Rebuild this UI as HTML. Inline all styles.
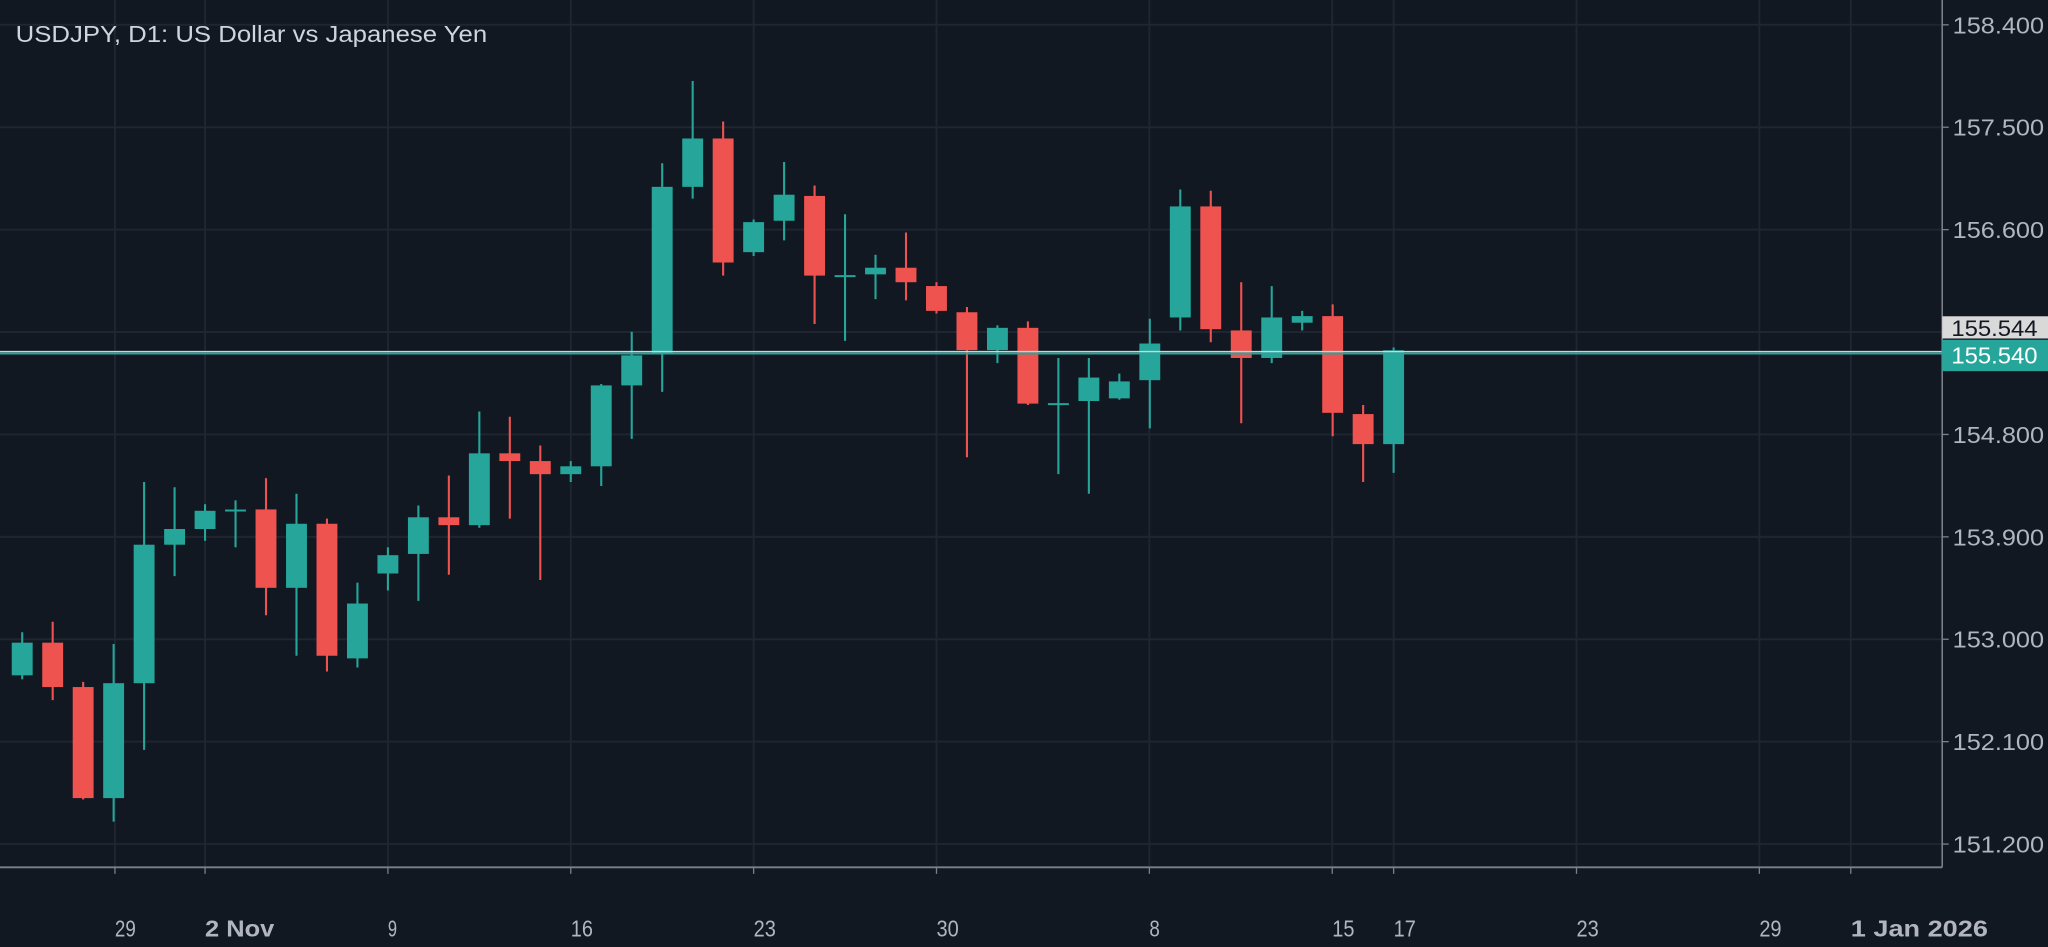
<!DOCTYPE html>
<html><head><meta charset="utf-8"><style>
html,body{margin:0;padding:0;background:#111822;overflow:hidden}
svg{display:block}
text{font-family:"Liberation Sans",sans-serif}
</style></head><body>
<svg id="chart" width="2048" height="947" viewBox="0 0 1568 725" preserveAspectRatio="none" xmlns="http://www.w3.org/2000/svg">
<rect x="0" y="0" width="1568" height="725" fill="#111822"/>
<g id="grid"></g>
<g id="candles"></g>
<g id="axes"></g>
<text x="12" y="32" font-size="18" textLength="361" lengthAdjust="spacingAndGlyphs" fill="#d1d4dc">USDJPY, D1: US Dollar vs Japanese Yen</text>
</svg>
<script>
const opens  = [152.683,152.97,152.58,151.604,152.614,153.831,153.969,154.13,154.141,153.452,154.015,152.832,153.578,153.75,154.072,154.003,154.634,154.566,154.451,154.52,155.231,155.507,156.976,157.401,156.402,156.678,156.896,156.196,156.207,156.265,156.104,155.874,155.541,155.737,155.07,155.094,155.117,155.277,155.828,156.804,155.714,155.472,155.782,155.84,154.979,154.715];
const highs  = [153.062,153.154,152.625,152.958,154.382,154.336,154.187,154.221,154.416,154.279,154.06,153.498,153.808,154.175,154.439,155.002,154.956,154.703,154.566,155.243,155.702,157.183,157.906,157.55,156.689,157.194,156.988,156.735,156.379,156.575,156.138,155.92,155.759,155.794,155.472,155.472,155.335,155.817,156.953,156.942,156.138,156.104,155.886,155.943,155.059,155.564];
const lows   = [152.648,152.465,151.592,151.397,152.028,153.555,153.865,153.808,153.211,152.855,152.717,152.752,153.429,153.337,153.567,153.98,154.06,153.521,154.382,154.347,154.761,155.174,156.873,156.196,156.368,156.506,155.771,155.622,155.989,155.978,155.863,154.6,155.427,155.059,154.451,154.279,155.105,154.853,155.714,155.61,154.898,155.427,155.714,154.784,154.382,154.462];
const closes = [152.97,152.58,151.604,152.614,153.831,153.969,154.129,154.14,153.452,154.015,152.855,153.314,153.739,154.072,154.003,154.634,154.566,154.451,154.52,155.231,155.495,156.976,157.401,156.311,156.666,156.907,156.196,156.2,156.265,156.138,155.886,155.541,155.737,155.071,155.075,155.3,155.266,155.599,156.804,155.725,155.472,155.828,155.84,154.99,154.715,155.54];
const priceTicks = [158.4,157.5,156.6,155.7,154.8,153.9,153.0,152.1,151.2];
const dateLabels = ["29","2 Nov","9","16","23","30","8","15","17","23","29","1 Jan 2026"];
const dateTickDays = [3.5,6.95,13.95,20.95,27.95,34.95,43.1,50.1,52.45,59.45,66.45,69.95];
const lastPrice = 155.540;
const bidPrice = 155.544;

const NS="http://www.w3.org/2000/svg";
const PW=1487, PH=664;
function y(p){return 19+(158.4-p)*78.4/0.9;}
function xc(i){return 17+i*23.333;}
function xd(d){return 18+d*20;}
function mk(tag,attrs,parent){const e=document.createElementNS(NS,tag);for(const k in attrs)e.setAttribute(k,attrs[k]);parent.appendChild(e);return e;}
const grid=document.getElementById('grid'), cg=document.getElementById('candles'), ax=document.getElementById('axes');
priceTicks.forEach((p,i)=>{
  const l=mk('line',{x1:0,x2:PW,y1:y(p),y2:y(p),stroke:'#1f2631','stroke-width':1.5},grid);
  
  
});
dateTickDays.forEach((d,i)=>{
  const l=mk('line',{x1:xd(d),x2:xd(d),y1:0,y2:PH,stroke:'#1f2631','stroke-width':1.5},grid);
  
  
});
opens.forEach((o,i)=>{
  const c=closes[i], up=c>=o, col=up?'#26a69a':'#ef5350';
  const g=mk('g',{},cg);
  
  
  mk('line',{x1:xc(i),x2:xc(i),y1:y(highs[i]),y2:y(lows[i]),stroke:col,'stroke-width':1.6},g);
  const top=y(Math.max(o,c)), h=Math.max(1.5,Math.abs(y(o)-y(c)));
  mk('rect',{x:xc(i)-8,y:top,width:16,height:h,fill:col},g);
});
const ly=y(lastPrice)+2;
const pl=mk('line',{x1:0,x2:PW,y1:ly-1,y2:ly-1,stroke:'#d0d4d8','stroke-width':1},ax);


const tl=mk('line',{x1:0,x2:PW,y1:ly+0.5,y2:ly+0.5,stroke:'#26a69a','stroke-width':1.6},ax);


mk('line',{x1:PW,x2:PW,y1:0,y2:PH,stroke:'#7b8089','stroke-width':1.2},ax);
mk('line',{x1:0,x2:PW,y1:PH,y2:PH,stroke:'#7b8089','stroke-width':1.5},ax);
priceTicks.forEach((p,i)=>{
  if(Math.abs(p-155.7)<0.01) return;
  mk('line',{x1:PW,x2:PW+5,y1:y(p),y2:y(p),stroke:'#7b8089','stroke-width':1},ax);
  const t=mk('text',{x:PW+8,y:y(p)+6.5,'font-size':18,fill:'#b2b5be',textLength:70,lengthAdjust:'spacingAndGlyphs'},ax);
  t.textContent=p.toFixed(3);
  
  
});
const labelW=[16,53,7,17,17,17,8,17,17,17,17,105];
dateTickDays.forEach((d,i)=>{
  mk('line',{x1:xd(d),x2:xd(d),y1:PH,y2:PH+5,stroke:'#7b8089','stroke-width':1},ax);
  const bold=(dateLabels[i].length>3);
  const t=mk('text',{x:xd(d),y:PH+53,'font-size':18,fill:'#b2b5be','font-weight':bold?'bold':'normal',textLength:labelW[i],lengthAdjust:'spacingAndGlyphs'},ax);
  t.textContent=dateLabels[i];
  
  
});
const bb=mk('rect',{x:PW,y:ly-28,width:81,height:17,fill:'#d9d9d9'},ax);


const bt=mk('text',{x:PW+7,y:ly-13,'font-size':17,fill:'#131722',textLength:66,lengthAdjust:'spacingAndGlyphs'},ax);
bt.textContent=bidPrice.toFixed(3);


const lb=mk('rect',{x:PW,y:ly-10,width:81,height:24,fill:'#26a69a'},ax);


const lt=mk('text',{x:PW+7,y:ly+8,'font-size':18,fill:'#ffffff',textLength:66,lengthAdjust:'spacingAndGlyphs'},ax);
lt.textContent=lastPrice.toFixed(3);


</script>
</body></html>
